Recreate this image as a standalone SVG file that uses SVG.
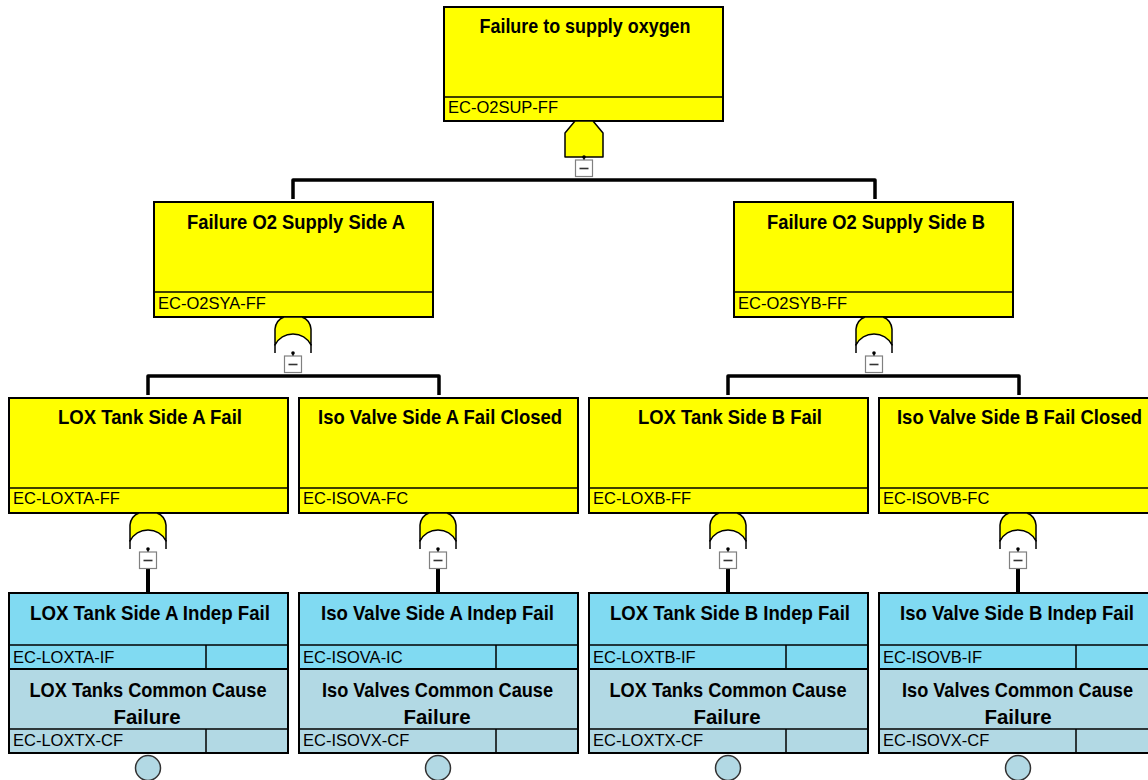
<svg xmlns="http://www.w3.org/2000/svg" xmlns:xlink="http://www.w3.org/1999/xlink" width="1148" height="780" viewBox="0 0 1148 780">
<style>
.ybox{fill:#FFFF00;stroke:#000;stroke-width:2}
.bbox{fill:#80DAF2;stroke:#000;stroke-width:2}
.lbox{fill:#B2D9E4;stroke:#000;stroke-width:2}
.div{stroke:#000;stroke-width:1.5;fill:none}
.title{font-family:"Liberation Sans",Arial,sans-serif;font-weight:bold;font-size:20.5px;text-anchor:middle;fill:#000}
.code{font-family:"Liberation Sans",Arial,sans-serif;font-size:16.5px;fill:#000}
.gate{fill:#FFFF00;stroke:#000;stroke-width:1.5;stroke-linejoin:round}
.leg{stroke:#000;stroke-width:1.5;fill:none}
.conn{fill:none;stroke:#000;stroke-width:3.5;stroke-linejoin:round;stroke-linecap:butt}
.stem{stroke:#000;stroke-width:4}
.tb{fill:#fff;stroke:#808080;stroke-width:1.2}
.minus{stroke:#333;stroke-width:1.6}
.circ{fill:#B2D9E4;stroke:#333;stroke-width:1.5}
</style>
<defs>
<g id="orgate">
<path class="gate" d="M -18,28 L -18,12 Q -17,3 -9,0 L 9,0 Q 17,3 18,12 L 18,28 A 20.2 20.2 0 0 0 -18,28 Z"/>
<path class="leg" d="M -18,27 L -18,36 M 18,27 L 18,36"/>
<line x1="0" y1="35" x2="0" y2="39" stroke="#000" stroke-width="1.5"/>
<circle cx="0" cy="36" r="1.8" fill="#000"/>
<rect class="tb" x="-8.5" y="39" width="17" height="16.5"/>
<line class="minus" x1="-4.5" y1="47.5" x2="4.5" y2="47.5"/>
</g>
<g id="andgate">
<path class="gate" d="M -19,36 L -19,12 L -9,0 L 9,0 L 19,12 L 19,36 Z"/>
<line x1="0" y1="35" x2="0" y2="39" stroke="#000" stroke-width="1.5"/>
<circle cx="0" cy="36" r="1.8" fill="#000"/>
<rect class="tb" x="-8.5" y="39" width="17" height="16.5"/>
<line class="minus" x1="-4.5" y1="47.5" x2="4.5" y2="47.5"/>
</g>
</defs>
<rect width="1148" height="780" fill="#fff"/>

<g id="connectors">
<path class="conn" d="M 293,199 L 293,180 L 875,180 L 875,199"/>
<path class="conn" d="M 148,395 L 148,376 L 439,376 L 439,395"/>
<path class="conn" d="M 728,395 L 728,376 L 1019,376 L 1019,395"/>
<line class="stem" x1="148" y1="568" x2="148" y2="593"/>
<line class="stem" x1="438" y1="568" x2="438" y2="593"/>
<line class="stem" x1="728" y1="568" x2="728" y2="593"/>
<line class="stem" x1="1018" y1="568" x2="1018" y2="593"/>
</g>

<g id="EC-O2SUP-FF">
<rect class="ybox" x="444" y="7" width="279" height="114"/>
<line class="div" x1="444" y1="97" x2="723" y2="97"/>
<text class="title" x="585" y="33" textLength="211" lengthAdjust="spacingAndGlyphs">Failure to supply oxygen</text>
<text class="code" x="448" y="113">EC-O2SUP-FF</text>
<use xlink:href="#andgate" href="#andgate" x="584" y="121"/>
</g>

<g id="EC-O2SYA-FF">
<rect class="ybox" x="154" y="202" width="279" height="115"/>
<line class="div" x1="154" y1="292" x2="433" y2="292"/>
<text class="title" x="296" y="229" textLength="218" lengthAdjust="spacingAndGlyphs">Failure O2 Supply Side A</text>
<text class="code" x="158" y="309">EC-O2SYA-FF</text>
<use xlink:href="#orgate" href="#orgate" x="293" y="317"/>
</g>

<g id="EC-O2SYB-FF">
<rect class="ybox" x="734" y="202" width="279" height="115"/>
<line class="div" x1="734" y1="292" x2="1013" y2="292"/>
<text class="title" x="876" y="229" textLength="218" lengthAdjust="spacingAndGlyphs">Failure O2 Supply Side B</text>
<text class="code" x="738" y="309">EC-O2SYB-FF</text>
<use xlink:href="#orgate" href="#orgate" x="874" y="317"/>
</g>

<g id="EC-LOXTA-FF">
<rect class="ybox" x="9" y="398" width="279" height="115"/>
<line class="div" x1="9" y1="488" x2="288" y2="488"/>
<text class="title" x="150" y="424" textLength="184" lengthAdjust="spacingAndGlyphs">LOX Tank Side A Fail</text>
<text class="code" x="13" y="504">EC-LOXTA-FF</text>
<use xlink:href="#orgate" href="#orgate" x="148" y="513"/>
</g>

<g id="EC-ISOVA-FC">
<rect class="ybox" x="299" y="398" width="279" height="115"/>
<line class="div" x1="299" y1="488" x2="578" y2="488"/>
<text class="title" x="440" y="424" textLength="244" lengthAdjust="spacingAndGlyphs">Iso Valve Side A Fail Closed</text>
<text class="code" x="303" y="504">EC-ISOVA-FC</text>
<use xlink:href="#orgate" href="#orgate" x="438" y="513"/>
</g>

<g id="EC-LOXB-FF">
<rect class="ybox" x="589" y="398" width="279" height="115"/>
<line class="div" x1="589" y1="488" x2="868" y2="488"/>
<text class="title" x="730" y="424" textLength="184" lengthAdjust="spacingAndGlyphs">LOX Tank Side B Fail</text>
<text class="code" x="593" y="504">EC-LOXB-FF</text>
<use xlink:href="#orgate" href="#orgate" x="728" y="513"/>
</g>

<g id="EC-ISOVB-FC">
<rect class="ybox" x="879" y="398" width="279" height="115"/>
<line class="div" x1="879" y1="488" x2="1158" y2="488"/>
<text class="title" x="1019.5" y="424" textLength="245" lengthAdjust="spacingAndGlyphs">Iso Valve Side B Fail Closed</text>
<text class="code" x="883" y="504">EC-ISOVB-FC</text>
<use xlink:href="#orgate" href="#orgate" x="1018" y="513"/>
</g>

<g id="EC-LOXTA-IF">
<rect class="bbox" x="9" y="593" width="279" height="76"/>
<line class="div" x1="9" y1="645" x2="288" y2="645"/>
<line class="div" x1="206" y1="645" x2="206" y2="669"/>
<text class="title" x="150" y="620" textLength="240" lengthAdjust="spacingAndGlyphs">LOX Tank Side A Indep Fail</text>
<text class="code" x="13" y="663">EC-LOXTA-IF</text>
</g>
<g id="EC-LOXTX-CF-A">
<rect class="lbox" x="9" y="669" width="279" height="84"/>
<line class="div" x1="9" y1="729" x2="288" y2="729"/>
<line class="div" x1="206" y1="729" x2="206" y2="753"/>
<text class="title" x="148" y="697" textLength="237" lengthAdjust="spacingAndGlyphs">LOX Tanks Common Cause</text>
<text class="title" x="147" y="724" textLength="67" lengthAdjust="spacingAndGlyphs">Failure</text>
<text class="code" x="13" y="746">EC-LOXTX-CF</text>
<circle class="circ" cx="148" cy="768" r="12.5"/>
</g>

<g id="EC-ISOVA-IC">
<rect class="bbox" x="299" y="593" width="279" height="76"/>
<line class="div" x1="299" y1="645" x2="578" y2="645"/>
<line class="div" x1="496" y1="645" x2="496" y2="669"/>
<text class="title" x="437.5" y="620" textLength="233" lengthAdjust="spacingAndGlyphs">Iso Valve Side A Indep Fail</text>
<text class="code" x="303" y="663">EC-ISOVA-IC</text>
</g>
<g id="EC-ISOVX-CF-A">
<rect class="lbox" x="299" y="669" width="279" height="84"/>
<line class="div" x1="299" y1="729" x2="578" y2="729"/>
<line class="div" x1="496" y1="729" x2="496" y2="753"/>
<text class="title" x="437.5" y="697" textLength="231" lengthAdjust="spacingAndGlyphs">Iso Valves Common Cause</text>
<text class="title" x="437" y="724" textLength="67" lengthAdjust="spacingAndGlyphs">Failure</text>
<text class="code" x="303" y="746">EC-ISOVX-CF</text>
<circle class="circ" cx="438" cy="768" r="12.5"/>
</g>

<g id="EC-LOXTB-IF">
<rect class="bbox" x="589" y="593" width="279" height="76"/>
<line class="div" x1="589" y1="645" x2="868" y2="645"/>
<line class="div" x1="786" y1="645" x2="786" y2="669"/>
<text class="title" x="730" y="620" textLength="240" lengthAdjust="spacingAndGlyphs">LOX Tank Side B Indep Fail</text>
<text class="code" x="593" y="663">EC-LOXTB-IF</text>
</g>
<g id="EC-LOXTX-CF-B">
<rect class="lbox" x="589" y="669" width="279" height="84"/>
<line class="div" x1="589" y1="729" x2="868" y2="729"/>
<line class="div" x1="786" y1="729" x2="786" y2="753"/>
<text class="title" x="728" y="697" textLength="237" lengthAdjust="spacingAndGlyphs">LOX Tanks Common Cause</text>
<text class="title" x="727" y="724" textLength="67" lengthAdjust="spacingAndGlyphs">Failure</text>
<text class="code" x="593" y="746">EC-LOXTX-CF</text>
<circle class="circ" cx="728" cy="768" r="12.5"/>
</g>

<g id="EC-ISOVB-IF">
<rect class="bbox" x="879" y="593" width="279" height="76"/>
<line class="div" x1="879" y1="645" x2="1158" y2="645"/>
<line class="div" x1="1076" y1="645" x2="1076" y2="669"/>
<text class="title" x="1017" y="620" textLength="234" lengthAdjust="spacingAndGlyphs">Iso Valve Side B Indep Fail</text>
<text class="code" x="883" y="663">EC-ISOVB-IF</text>
</g>
<g id="EC-ISOVX-CF-B">
<rect class="lbox" x="879" y="669" width="279" height="84"/>
<line class="div" x1="879" y1="729" x2="1158" y2="729"/>
<line class="div" x1="1076" y1="729" x2="1076" y2="753"/>
<text class="title" x="1017.5" y="697" textLength="231" lengthAdjust="spacingAndGlyphs">Iso Valves Common Cause</text>
<text class="title" x="1018" y="724" textLength="67" lengthAdjust="spacingAndGlyphs">Failure</text>
<text class="code" x="883" y="746">EC-ISOVX-CF</text>
<circle class="circ" cx="1018" cy="768" r="12.5"/>
</g>
</svg>
